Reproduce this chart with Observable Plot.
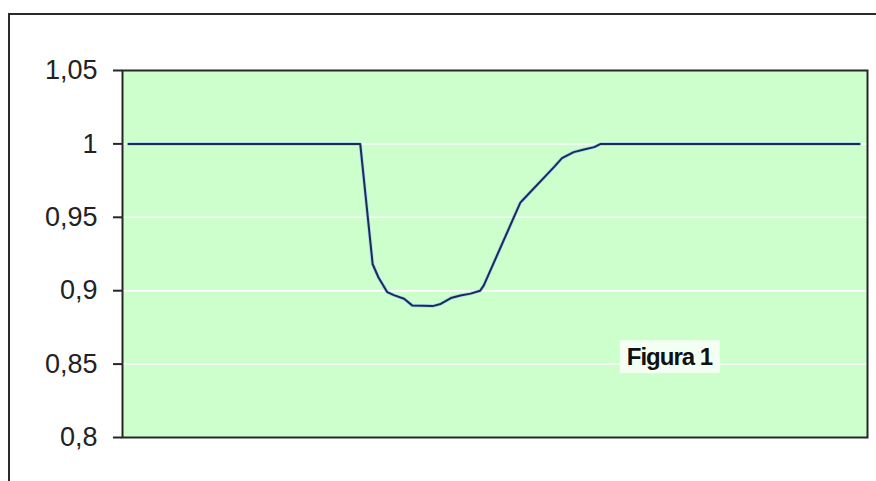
<!DOCTYPE html>
<html>
<head>
<meta charset="utf-8">
<script src="https://cdn.jsdelivr.net/npm/d3@7"></script>
<script src="https://cdn.jsdelivr.net/npm/@observablehq/plot@0.6"></script>
<style>
  html, body { margin: 0; padding: 0; background: #fff; }
  #wrap { position: relative; width: 876px; height: 481px; overflow: hidden; }
  #outer { position: absolute; left: 8px; top: 13px; width: 900px; height: 500px;
           border-top: 2px solid #2a2a2a; border-left: 2px solid #2a2a2a; }
  #chart { position: absolute; left: 0; top: 0; }
</style>
</head>
<body>
<div id="wrap">
  <div id="outer"></div>
  <div id="chart"></div>
</div>
<script>
// Relative brightness over time (arbitrary time units)
const times = [0, 31.7, 33.4, 34.2, 35.4, 36.3, 37.7, 38.8, 41.6, 42.7, 44.1, 45.4, 46.8, 48.1, 48.6,
               53.6, 54.1, 58.2, 59.3, 60.9, 62.3, 63.7, 64.6, 100];
const flux  = [1.0, 1.0, 0.918, 0.909, 0.899, 0.897, 0.8945, 0.890, 0.8895, 0.891, 0.895, 0.8967, 0.898, 0.900, 0.9036,
               0.960, 0.9626, 0.9842, 0.9903, 0.9944, 0.9962, 0.9978, 1.0, 1.0];

const yTicks      = [0.8, 0.85, 0.9, 0.95, 1.0, 1.05];
const yTickLabels = ["0,8", "0,85", "0,9", "0,95", "1", "1,05"];
const gridValues  = [0.85, 0.9, 0.95, 1.0];

const noteText = "Figura 1";
const noteTime = 74;
const noteFlux = 0.8545;

const data = times.map((t, i) => ({t, v: flux[i]}));

const chart = Plot.plot({
  width: 876,
  height: 481,
  marginLeft: 122,
  marginRight: 9,
  marginTop: 70,
  marginBottom: 44,
  style: {background: "transparent", fontFamily: "'Liberation Sans', Arial, sans-serif"},
  x: {domain: [-0.82, 101.09], axis: null},
  y: {domain: [0.8, 1.05], axis: null},
  marks: [
    Plot.frame({fill: "#ccffcc", stroke: null}),
    Plot.ruleY(gridValues, {stroke: "#ffffff", strokeWidth: 1.5}),
    Plot.line(data, {x: "t", y: "v", stroke: "#a8d8f0", strokeWidth: 3.5}),
    Plot.line(data, {x: "t", y: "v", stroke: "#1c2b55", strokeWidth: 2}),
    Plot.frame({stroke: "#262626", strokeWidth: 2}),
    Plot.axisY({
      ticks: yTicks,
      tickFormat: d => yTickLabels[yTicks.indexOf(d)],
      label: null,
      tickSize: 9,
      tickPadding: 16,
      fontSize: 27,
      stroke: "#262626",
      strokeWidth: 2,
      fill: "#222",
      color: "#222"
    }),
    Plot.text([noteText], {
      x: () => noteTime, y: () => noteFlux, text: d => d,
      fontSize: 24, fontWeight: "bold", fill: "#111"
    })
  ]
});

document.getElementById("chart").appendChild(chart);

// Pale box behind the annotation (same transform as its text)
const noteNode = Array.from(chart.querySelectorAll("text")).find(n => n.textContent === noteText);
if (noteNode) {
  noteNode.setAttribute("letter-spacing", "-1");
  const bb = noteNode.getBBox();
  const rect = document.createElementNS("http://www.w3.org/2000/svg", "rect");
  rect.setAttribute("x", bb.x - 7);
  rect.setAttribute("y", bb.y - 3);
  rect.setAttribute("width", bb.width + 14);
  rect.setAttribute("height", bb.height + 6);
  rect.setAttribute("fill", "#f3fff3");
  const tf = noteNode.getAttribute("transform");
  if (tf) rect.setAttribute("transform", tf);
  noteNode.parentNode.insertBefore(rect, noteNode);
}
</script>
</body>
</html>
